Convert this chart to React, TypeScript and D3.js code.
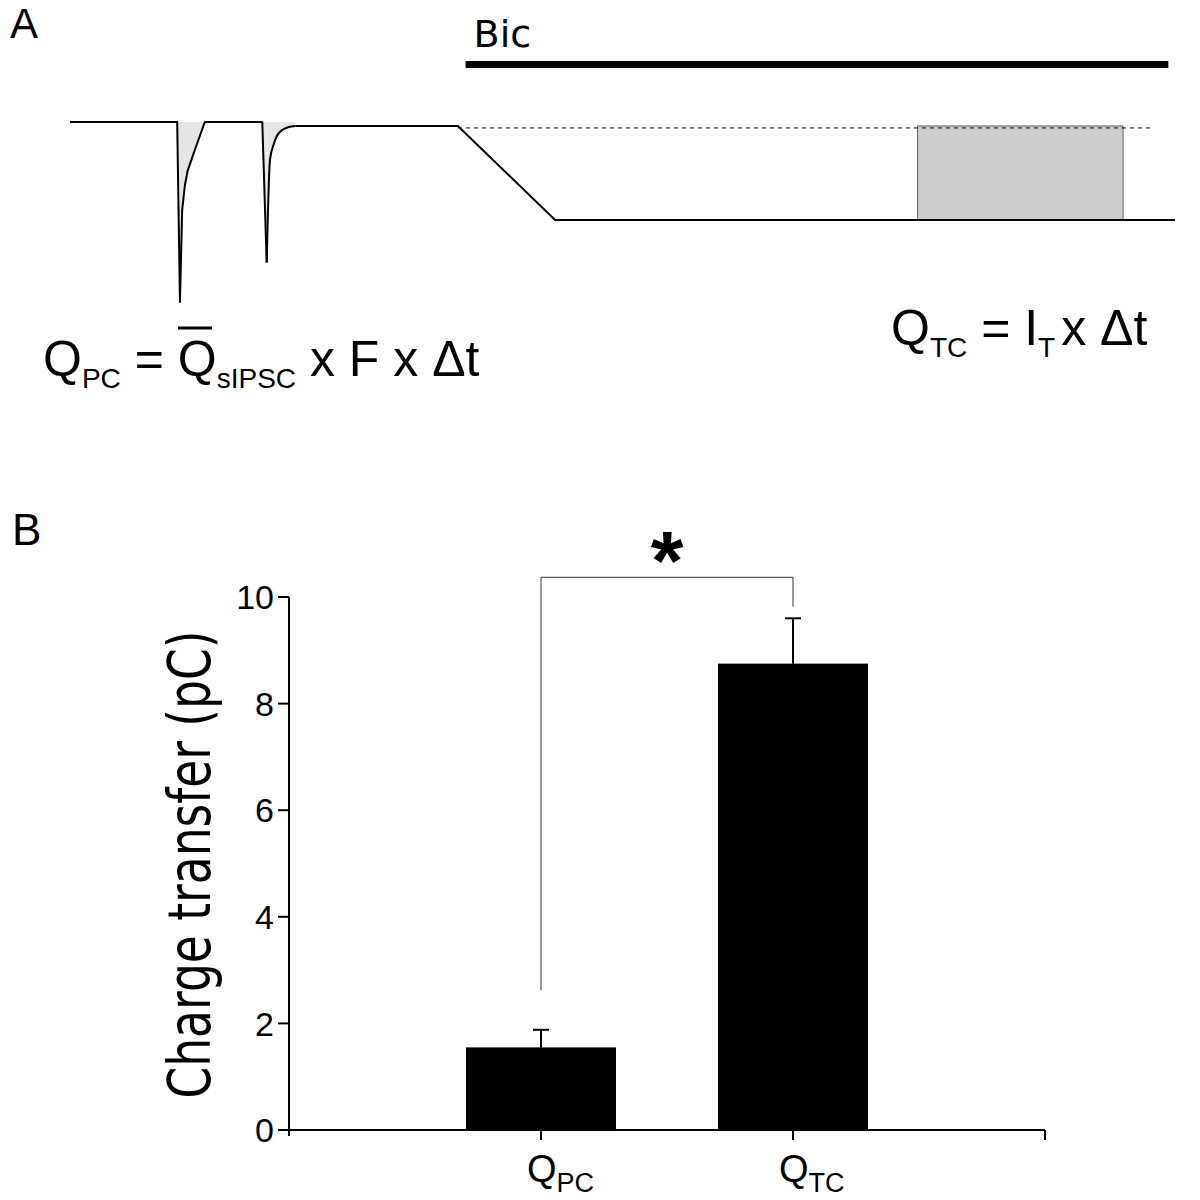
import React from "react";
import * as d3 from "d3";

// Panel A schematic trace (time in ms, current in pA; downward = inward)
const traceTime = [0, 97, 99.5, 101.5, 104, 106.5, 113, 122, 174, 178, 181, 184, 187, 192, 198, 204, 351, 439, 1000];
const traceCurrent = [0, 0, -100, -49, -35, -27, -15.5, 0, 0, -78, -21, -13, -8, -4.5, -2.8, -2.2, -2.2, -54.4, -54.4];
const spike1Idx = [1, 7];
const spike2Idx = [8, 15];
const holdingLevel = -3.3;
const holdingSpan = [351, 980];
const tonicWindow = [767, 953];
const tonicLevels = [-2.2, -54.4];
const bicSpan = [358, 994];
const bicLevel = 32;

// Panel B data
const categories = ["QPC", "QTC"];
const catMain = ["Q", "Q"];
const catSub = ["PC", "TC"];
const means = [1.55, 8.75];
const sems = [0.33, 0.85];
const yTicks = [0, 2, 4, 6, 8, 10];
const bracketLevels = [2.62, 10.37, 9.82];

const arial = "'Liberation Sans', Arial, sans-serif";
const gothic = "'DejaVu Sans', sans-serif";

type Pt = [number, number];

export default function App() {
  // scales for panel A
  const xA = d3.scaleLinear().domain([0, 1000]).range([70, 1175]);
  const yA = d3.scaleLinear().domain([0, -100]).range([122, 302]);

  const pts = traceTime.map((t, i) => [t, traceCurrent[i]] as Pt);
  const line = d3
    .line<Pt>()
    .x((d) => xA(d[0]))
    .y((d) => yA(d[1]));
  const smooth = d3
    .line<Pt>()
    .x((d) => xA(d[0]))
    .y((d) => yA(d[1]))
    .curve(d3.curveMonotoneX);
  const area = d3
    .area<Pt>()
    .x((d) => xA(d[0]))
    .y0(yA(0))
    .y1((d) => yA(d[1]));
  const smoothArea = d3
    .area<Pt>()
    .x((d) => xA(d[0]))
    .y0(yA(0))
    .y1((d) => yA(d[1]))
    .curve(d3.curveMonotoneX);

  // trace pieces: straight up to spike 2 peak, smooth decay, then straight
  const pre = pts.slice(0, spike2Idx[0] + 2);
  const decay = pts.slice(spike2Idx[0] + 1, spike2Idx[1] + 1);
  const post = pts.slice(spike2Idx[1]);

  // scales for panel B
  const xB = d3.scalePoint<string>().domain(categories).range([289, 1045]).padding(1);
  const yB = d3.scaleLinear().domain([0, 10]).range([1130, 597]);
  const barW = 150;
  const [x0, x1] = xB.range();

  return (
    <svg width={1200} height={1200} style={{ position: "absolute", left: 0, top: 0, background: "#fff" }}>
      <rect width={1200} height={1200} fill="#fff" />
      {/* Panel A */}
      <text x={10} y={38} fontFamily={arial} fontSize={42}>A</text>
      <text x={xA(bicSpan[0]) + 8} y={47} fontFamily={gothic} fontSize={38}>Bic</text>
      <line x1={xA(bicSpan[0])} x2={xA(bicSpan[1])} y1={yA(bicLevel)} y2={yA(bicLevel)} stroke="#000" strokeWidth={7} />

      <path d={area(pts.slice(spike1Idx[0], spike1Idx[1] + 1)) || ""} fill="#e6e6e6" />
      <path d={smoothArea(pts.slice(spike2Idx[0] + 1, spike2Idx[1] + 1)) || ""} fill="#e6e6e6" />
      <path d={area(pts.slice(spike2Idx[0], spike2Idx[0] + 2)) || ""} fill="#e6e6e6" />
      <rect
        x={xA(tonicWindow[0])}
        y={yA(tonicLevels[0])}
        width={xA(tonicWindow[1]) - xA(tonicWindow[0])}
        height={yA(tonicLevels[1]) - yA(tonicLevels[0])}
        fill="#cccccc"
        stroke="#666"
        strokeWidth={1}
      />
      <line
        x1={xA(holdingSpan[0])}
        x2={xA(holdingSpan[1])}
        y1={yA(holdingLevel)}
        y2={yA(holdingLevel)}
        stroke="#000"
        strokeWidth={1}
        strokeDasharray="4,4"
      />
      <path d={line(pre) || ""} fill="none" stroke="#000" strokeWidth={2} strokeLinejoin="round" />
      <path d={smooth(decay) || ""} fill="none" stroke="#000" strokeWidth={2} />
      <path d={line(post) || ""} fill="none" stroke="#000" strokeWidth={2} strokeLinejoin="round" />

      <text x={43} y={376} fontFamily={arial} fontSize={50}>
        Q<tspan fontSize={28} dy={12}>PC</tspan>
        <tspan dy={-12}> = Q</tspan>
        <tspan fontSize={28} dy={12}>sIPSC</tspan>
        <tspan dy={-12}> x F x Δt</tspan>
      </text>
      <line x1={178} x2={212} y1={328} y2={328} stroke="#000" strokeWidth={3} />

      <text x={891} y={345} fontFamily={arial} fontSize={50}>
        Q<tspan fontSize={28} dy={12}>TC</tspan>
        <tspan dy={-12}> = I</tspan>
        <tspan fontSize={28} dy={12}>T</tspan>
        <tspan dy={-12} dx={6}>x Δt</tspan>
      </text>

      {/* Panel B */}
      <text x={12} y={545} fontFamily={arial} fontSize={44}>B</text>

      {categories.map((c, i) => (
        <g key={c}>
          <rect
            x={(xB(c) as number) - barW / 2}
            y={yB(means[i])}
            width={barW}
            height={yB(0) - yB(means[i])}
            fill="#000"
          />
          <line x1={xB(c)} x2={xB(c)} y1={yB(means[i])} y2={yB(means[i] + sems[i])} stroke="#000" strokeWidth={2} />
          <line x1={(xB(c) as number) - 8} x2={(xB(c) as number) + 8} y1={yB(means[i] + sems[i])} y2={yB(means[i] + sems[i])} stroke="#000" strokeWidth={2} />
        </g>
      ))}

      {/* axes */}
      <line x1={x0} x2={x0} y1={yB(10)} y2={yB(0) + 6} stroke="#000" strokeWidth={2} />
      <line x1={x0} x2={x1} y1={yB(0)} y2={yB(0)} stroke="#000" strokeWidth={2} />
      {yTicks.map((t) => (
        <g key={t}>
          <line x1={x0 - 11} x2={x0} y1={yB(t)} y2={yB(t)} stroke="#000" strokeWidth={2} />
          <text x={x0 - 15} y={yB(t)} dy="0.36em" textAnchor="end" fontFamily={arial} fontSize={34}>{t}</text>
        </g>
      ))}
      <line x1={x1} x2={x1} y1={yB(0)} y2={yB(0) + 10} stroke="#000" strokeWidth={2} />
      {categories.map((c, i) => (
        <g key={"l" + c}>
          <line x1={xB(c)} x2={xB(c)} y1={yB(0)} y2={yB(0) + 10} stroke="#000" strokeWidth={2} />
          <text x={(xB(c) as number) - 14} y={1182} fontFamily={arial} fontSize={38}>
            {catMain[i]}
            <tspan fontSize={27} dy={10}>{catSub[i]}</tspan>
          </text>
        </g>
      ))}

      <text
        transform={`translate(210,${(yB(0) + yB(10)) / 2 + 1}) rotate(-90)`}
        textAnchor="middle"
        fontFamily={gothic}
        fontSize={58}
        textLength={468}
        lengthAdjust="spacingAndGlyphs"
      >
        Charge transfer (pC)
      </text>

      {/* significance bracket */}
      <path
        d={`M${xB(categories[0])},${yB(bracketLevels[0])}V${yB(bracketLevels[1])}H${xB(categories[1])}V${yB(bracketLevels[2])}`}
        fill="none"
        stroke="#333"
        strokeWidth={1}
      />
      <text x={((xB(categories[0]) as number) + (xB(categories[1]) as number)) / 2} y={590} textAnchor="middle" fontFamily={arial} fontWeight="bold" fontSize={84}>*</text>
    </svg>
  );
}
